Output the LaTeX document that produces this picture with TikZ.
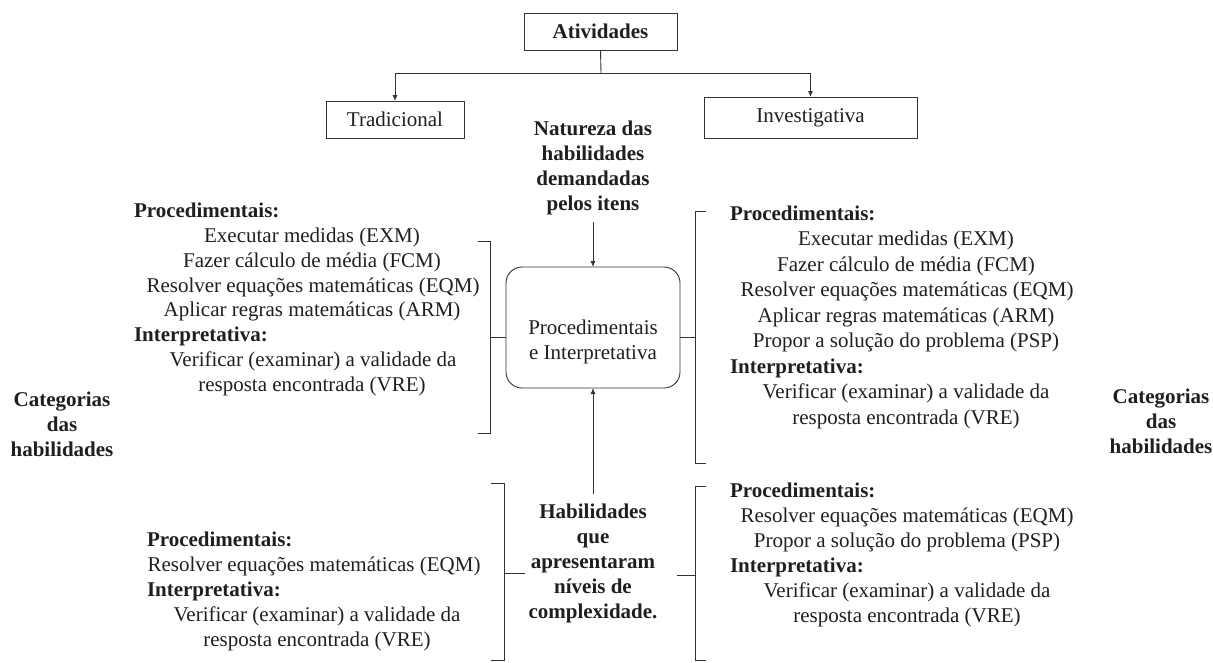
\documentclass[tikz,border=0pt]{standalone}
\usepackage{fontspec}
\setmainfont{Liberation Serif}
\usetikzlibrary{arrows.meta}
\begin{document}
\begin{tikzpicture}[x=1pt,y=-1pt,
  every node/.style={inner sep=0pt,outer sep=0pt,text=black!88,font=\fontsize{21}{25}\selectfont},
  bx/.style={draw=black!80,line width=0.9pt,minimum height=37pt},
  hd/.style={anchor=mid west,font=\fontsize{21}{25}\selectfont\bfseries},
  it/.style={anchor=mid},
  lbl/.style={align=center,font=\fontsize{21}{25}\selectfont\bfseries},
  ln/.style={draw=black!80,line width=0.9pt},
  arr/.style={ln,-{Latex[length=6pt,width=5pt]}}]
\useasboundingbox (0,0) rectangle (1213,662);

% top boxes
\node[bx,minimum width=153pt,font=\fontsize{21}{25}\selectfont\bfseries] (ativ) at (600.5,31.5) {Atividades};
\node[bx,minimum width=138pt] (trad) at (395,119.5) {Tradicional};
\node[bx,minimum width=213pt,minimum height=41pt] (inv) at (810.5,117.5) {Investigativa};
\coordinate (split) at (601,73);
\draw[ln] (ativ.south) -- (split);
\draw[arr] (split) -| (trad.north);
\draw[arr] (split) -| (inv.north);

% centre
\node[lbl] (nat) at (593,167.5) {Natureza das\\habilidades\\demandadas\\pelos itens};
\node[draw=black!80,line width=0.9pt,rounded corners=16pt,minimum width=174pt,minimum height=121pt] (pe) at (593,327.5) {};
\node[align=center] (petxt) at (593,342) {Procedimentais\\e Interpretativa};
\node[lbl] (hab) at (593,563.5) {Habilidades\\que\\apresentaram\\níveis de\\complexidade.};
\draw[arr] ([yshift=-7.5pt]nat.south) -- (pe.north);
\draw[arr] ([yshift=10pt]hab.north) -- (pe.south);

% brackets
\coordinate (ltm) at (490,337);
\coordinate (rtm) at (695,337);
\coordinate (lbm) at (504,573);
\coordinate (rbm) at (695,575);
\draw[ln] (478,241) -- (490,241) -- (490,433) -- (478,433);
\draw[ln] ([yshift=-9.5pt]pe.west) -- (ltm);
\draw[ln] (706,211) -- (695,211) -- (695,463) -- (706,463);
\draw[ln] ([yshift=-9.5pt]pe.east) -- (rtm);
\draw[ln] (491,483) -- (504,483) -- (504,660) -- (491,660);
\draw[ln] (lbm) -- (525,573);
\draw[ln] (706,486) -- (695,486) -- (695,660) -- (706,660);
\draw[ln] (677,575) -- (rbm);

% left top list
\node[hd] (ltp) at (134,215) {Procedimentais:};
\node[it] (lt1) at (312,240) {Executar medidas (EXM)};
\node[it] (lt2) at (312,265) {Fazer cálculo de média (FCM)};
\node[it] (lt3) at (313,290) {Resolver equações matemáticas (EQM)};
\node[it] (lt4) at (312,314.5) {Aplicar regras matemáticas (ARM)};
\node[hd] (lti) at (134,339.5) {Interpretativa:};
\node[it] (lt5) at (313,364.5) {Verificar (examinar) a validade da};
\node[it] (lt6) at (312,389.5) {resposta encontrada (VRE)};

% right top list
\node[hd] (rtp) at (730,218) {Procedimentais:};
\node[it] (rt1) at (906,243.5) {Executar medidas (EXM)};
\node[it] (rt2) at (906,269) {Fazer cálculo de média (FCM)};
\node[it] (rt3) at (907,294.5) {Resolver equações matemáticas (EQM)};
\node[it] (rt4) at (906,320) {Aplicar regras matemáticas (ARM)};
\node[it] (rt5) at (906,345.5) {Propor a solução do problema (PSP)};
\node[hd] (rti) at (730,371) {Interpretativa:};
\node[it] (rt6) at (906,396.5) {Verificar (examinar) a validade da};
\node[it] (rt7) at (906,422) {resposta encontrada (VRE)};

% bottom left list
\node[hd] (lbp) at (147,544) {Procedimentais:};
\node[it] (lb1) at (314,569) {Resolver equações matemáticas (EQM)};
\node[hd] (lbi) at (147,594) {Interpretativa:};
\node[it] (lb2) at (317,619) {Verificar (examinar) a validade da};
\node[it] (lb3) at (317,644) {resposta encontrada (VRE)};

% bottom right list
\node[hd] (rbp) at (730,495) {Procedimentais:};
\node[it] (rb1) at (907,520) {Resolver equações matemáticas (EQM)};
\node[it] (rb2) at (907,545) {Propor a solução do problema (PSP)};
\node[hd] (rbi) at (730,570) {Interpretativa:};
\node[it] (rb3) at (907,595) {Verificar (examinar) a validade da};
\node[it] (rb4) at (907,620) {resposta encontrada (VRE)};

% side labels
\node[lbl] (catl) at (62,424) {Categorias\\das\\habilidades};
\node[lbl] (catr) at (1161,421.5) {Categorias\\das\\habilidades};
\end{tikzpicture}
\end{document}
